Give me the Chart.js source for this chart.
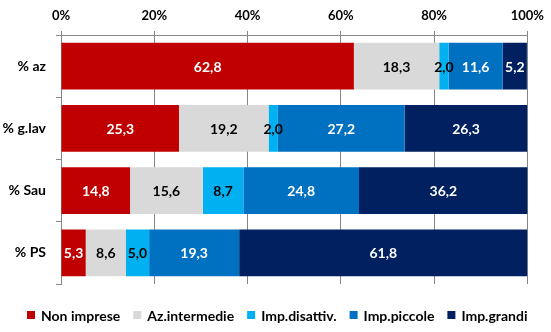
<!DOCTYPE html>
<html>
<head>
<meta charset="utf-8">
<script src="https://cdn.jsdelivr.net/npm/chart.js@4"></script>
<style>
html,body{margin:0;padding:0;background:#fff;}
#wrap{width:551px;height:332px;position:relative;}
</style>
</head>
<body>
<div id="wrap"><canvas id="c" width="551" height="332"></canvas></div>
<script>
const categories = ["% az", "% g.lav", "% Sau", "% PS"];
const seriesNames = ["Non imprese", "Az.intermedie", "Imp.disattiv.", "Imp.piccole", "Imp.grandi"];
const nonImprese    = [62.8, 25.3, 14.8, 5.3];
const azIntermedie  = [18.3, 19.2, 15.6, 8.6];
const impDisattiv   = [2.0, 2.0, 8.7, 5.0];
const impPiccole    = [11.6, 27.2, 24.8, 19.3];
const impGrandi     = [5.2, 26.3, 36.2, 61.8];
const xTicks = [0, 20, 40, 60, 80, 100];

const colors = ["#C00000", "#D9D9D9", "#00B0F0", "#0070C0", "#002060"];
const labelColors = ["#ffffff", "#000000", "#000000", "#ffffff", "#ffffff"];
const values = [nonImprese, azIntermedie, impDisattiv, impPiccole, impGrandi];

const FONT = "Lato, 'Open Sans', sans-serif";

const labelPlugin = {
  id: 'barLabels',
  afterDatasetsDraw(chart) {
    const ctx = chart.ctx;
    ctx.save();
    ctx.font = "bold 14px " + FONT;
    ctx.textAlign = 'center';
    ctx.textBaseline = 'middle';
    chart.data.datasets.forEach((ds, i) => {
      const meta = chart.getDatasetMeta(i);
      meta.data.forEach((el, j) => {
        const v = ds.data[j];
        const cx = (el.x + el.base) / 2;
        ctx.fillStyle = labelColors[i];
        ctx.fillText(v.toFixed(1).replace('.', ','), cx, el.y + 1);
      });
    });
    ctx.restore();
  }
};

const legendPlugin = {
  id: 'customLegend',
  afterDraw(chart) {
    const ctx = chart.ctx;
    ctx.save();
    ctx.font = "bold 14px " + FONT;
    ctx.textBaseline = 'middle';
    ctx.textAlign = 'left';
    const box = 8, boxGap = 6, itemGap = 13;
    const cy = chart.chartArea.bottom + 31;
    let x = 27;
    chart.data.datasets.forEach((ds, i) => {
      ctx.fillStyle = ds.backgroundColor;
      ctx.fillRect(x, cy - box / 2, box, box);
      x += box + boxGap;
      ctx.fillStyle = '#000';
      ctx.fillText(ds.label, x, cy + 1);
      x += ctx.measureText(ds.label).width + itemGap;
    });
    ctx.restore();
  }
};

new Chart(document.getElementById('c'), {
  type: 'bar',
  data: {
    labels: categories,
    datasets: values.map((v, i) => ({
      label: seriesNames[i],
      data: v,
      backgroundColor: colors[i],
      borderWidth: 0,
      barPercentage: 0.755,
      categoryPercentage: 1
    }))
  },
  options: {
    indexAxis: 'y',
    responsive: false,
    animation: false,
    devicePixelRatio: 1,
    layout: { padding: { left: 0, right: 23, top: 0, bottom: 48 } },
    scales: {
      x: {
        position: 'top',
        stacked: true,
        min: 0,
        max: 100,
        afterBuildTicks(axis) { axis.ticks = xTicks.map(v => ({ value: v })); },
        afterFit(axis) { axis.height = 35; },
        ticks: {
          callback: v => v + '%',
          color: '#000',
          font: { family: FONT, size: 13, weight: 'bold' },
          padding: 7,
          maxRotation: 0
        },
        grid: { color: '#868686', lineWidth: 1, tickLength: 4, drawTicks: true },
        border: { display: true, color: '#868686' }
      },
      y: {
        stacked: true,
        afterFit(axis) { axis.width = 61; },
        ticks: {
          color: '#000',
          font: { family: FONT, size: 14, weight: 'bold' },
          padding: 10
        },
        grid: { offset: true, drawOnChartArea: false, tickLength: 5, color: '#868686' },
        border: { display: true, color: '#868686' }
      }
    },
    plugins: {
      tooltip: { enabled: false },
      legend: { display: false }
    }
  },
  plugins: [labelPlugin, legendPlugin]
});
</script>
</body>
</html>
